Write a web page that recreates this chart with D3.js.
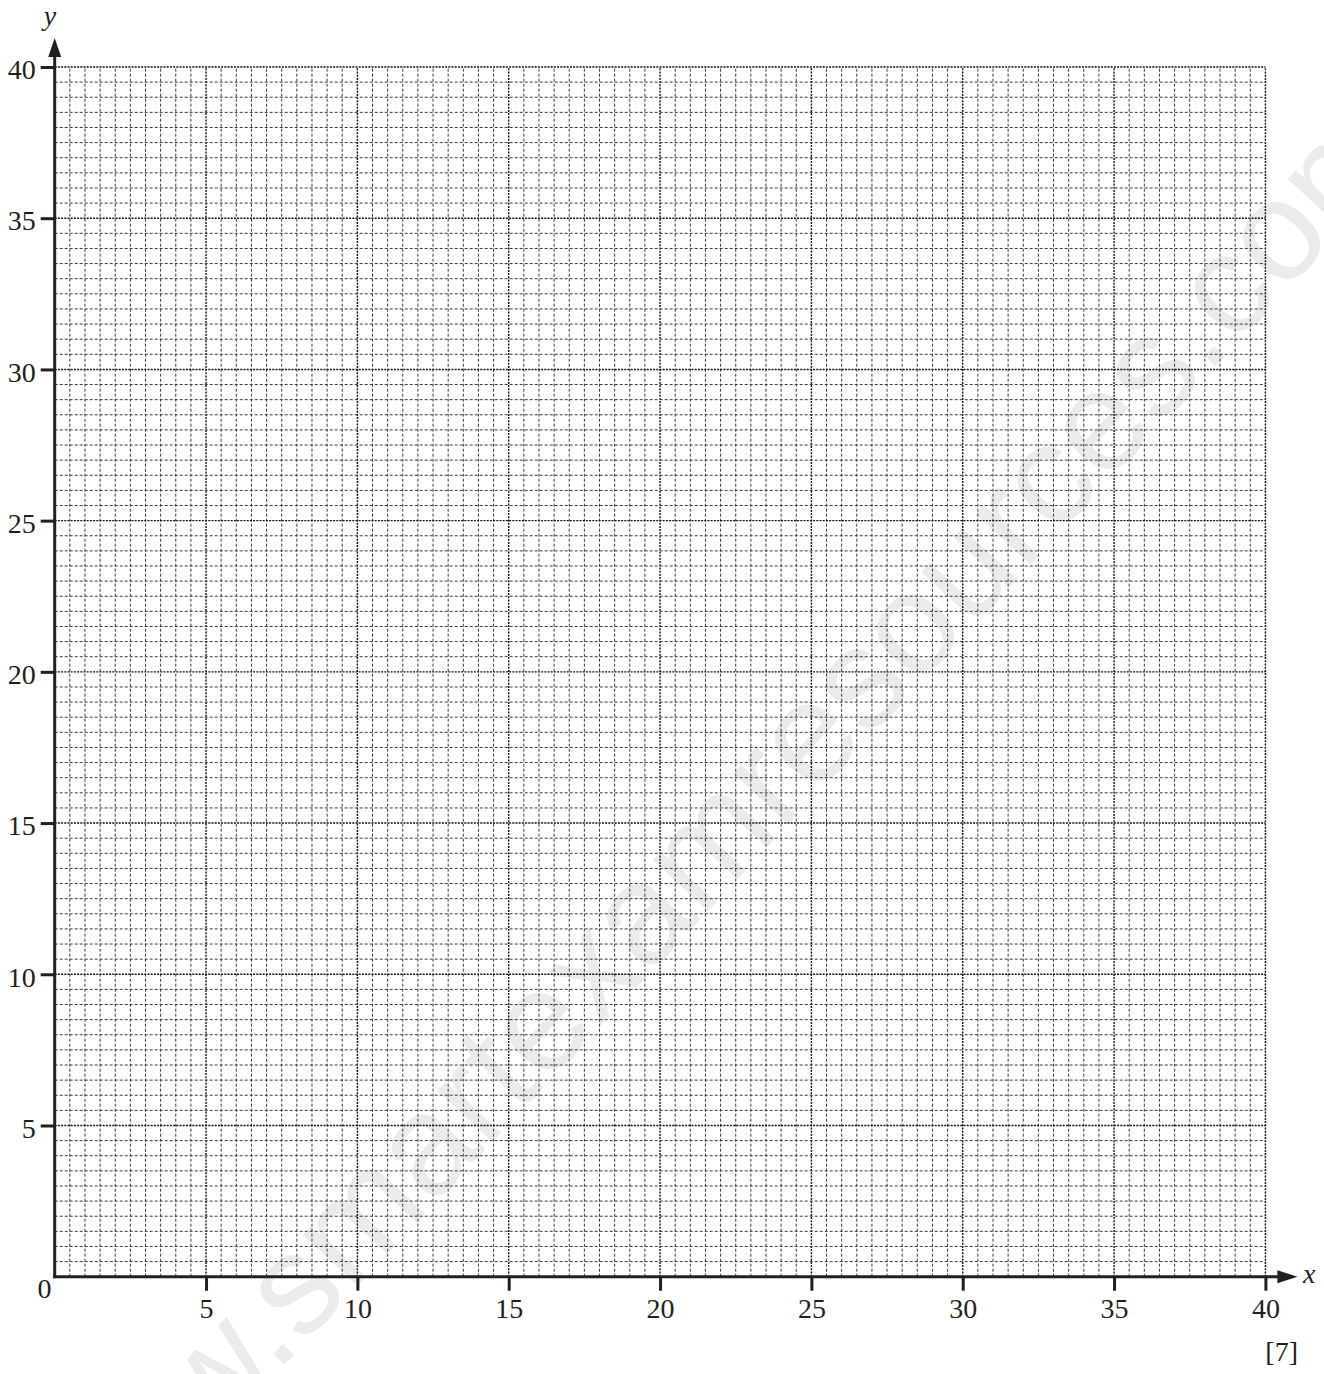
<!DOCTYPE html>
<html>
<head>
<meta charset="utf-8">
<script src="https://cdn.jsdelivr.net/npm/d3@7"></script>
<style>
  html, body { margin: 0; padding: 0; background: #fff; }
  svg { display: block; }
  .axis text { font-family: "Liberation Serif", "DejaVu Serif", serif; font-size: 28px; fill: #231f20; }
</style>
</head>
<body>
<div id="chart"></div>
<script>
// Blank graph grid, 0..40 on both axes
const xDomain = [0, 40];
const yDomain = [0, 40];
const xTickValues = [5, 10, 15, 20, 25, 30, 35, 40];
const yTickValues = [5, 10, 15, 20, 25, 30, 35, 40];
const minorStep = 0.5;
const majorStep = 5;
const marksLabel = '[7]';
const watermark = 'www.smartexamresources.com';

const W = 1324, H = 1374;
const M = { left: 54.7, right: 58.6, top: 67, bottom: 97.3 };
const ink = '#231f20';
const serif = '"Liberation Serif", "DejaVu Serif", serif';

const svg = d3.select('#chart').append('svg')
  .attr('width', W).attr('height', H)
  .attr('viewBox', `0 0 ${W} ${H}`);

const x = d3.scaleLinear().domain(xDomain).range([M.left, W - M.right]);
const y = d3.scaleLinear().domain(yDomain).range([H - M.bottom, M.top]);

// watermark, behind everything (runs off the page edges like the original)
svg.append('text')
  .attr('transform', 'translate(744,872) rotate(-47)')
  .attr('text-anchor', 'middle')
  .attr('font-family', '"Liberation Sans", Arial, sans-serif')
  .attr('font-size', 142)
  .attr('fill', '#ebebeb')
  .text(watermark);

// grid
const nMinor = Math.round((xDomain[1] - xDomain[0]) / minorStep);
const gridVals = d3.range(1, nMinor + 1).map(i => xDomain[0] + i * minorStep);
const isMajor = v => Math.abs(v / majorStep - Math.round(v / majorStep)) < 1e-9;

const grid = svg.append('g').attr('class', 'grid');
const styleGrid = sel => sel
  .attr('stroke', d => isMajor(d) ? '#111' : '#3a3a3a')
  .attr('stroke-width', d => isMajor(d) ? 1.4 : 1)
  .attr('stroke-dasharray', d => isMajor(d) ? '2 1.2' : '3 2');

grid.selectAll('line.v').data(gridVals).join('line')
  .attr('class', 'v')
  .attr('x1', d => x(d)).attr('x2', d => x(d))
  .attr('y1', y(yDomain[0])).attr('y2', y(yDomain[1]))
  .call(styleGrid);
grid.selectAll('line.h').data(gridVals).join('line')
  .attr('class', 'h')
  .attr('y1', d => y(d)).attr('y2', d => y(d))
  .attr('x1', x(xDomain[0])).attr('x2', x(xDomain[1]))
  .call(styleGrid);

// axes
const xAxis = svg.append('g').attr('class', 'axis')
  .attr('transform', `translate(0,${y(0)})`)
  .call(d3.axisBottom(x).tickValues(xTickValues).tickSize(14).tickPadding(7).tickFormat(d3.format('d')));
const yAxis = svg.append('g').attr('class', 'axis')
  .attr('transform', `translate(${x(0)},0)`)
  .call(d3.axisLeft(y).tickValues(yTickValues).tickSize(14).tickPadding(5).tickFormat(d3.format('d')));
[xAxis, yAxis].forEach(a => {
  a.select('.domain').remove();
  a.selectAll('.tick line').attr('stroke', ink).attr('stroke-width', 3);
});
yAxis.selectAll('.tick text').attr('dy', '0.42em');

// axis lines with arrowheads
const ax = svg.append('g');
ax.append('line')
  .attr('x1', x(0) - 1.5).attr('x2', x(40) + 16)
  .attr('y1', y(0)).attr('y2', y(0))
  .attr('stroke', ink).attr('stroke-width', 3);
ax.append('line')
  .attr('x1', x(0)).attr('x2', x(0))
  .attr('y1', y(0) + 1.5).attr('y2', y(40) - 14)
  .attr('stroke', ink).attr('stroke-width', 3);
ax.append('path')
  .attr('d', `M${x(40) + 32},${y(0)} L${x(40) + 12},${y(0) - 6.5} L${x(40) + 12},${y(0) + 6.5} Z`)
  .attr('fill', ink);
ax.append('path')
  .attr('d', `M${x(0)},${y(40) - 29} L${x(0) - 6.5},${y(40) - 10} L${x(0) + 6.5},${y(40) - 10} Z`)
  .attr('fill', ink);

svg.append('text').attr('x', 44.5).attr('y', 1298)
  .attr('text-anchor', 'middle').attr('font-family', serif).attr('font-size', 28)
  .attr('fill', ink).text('0');
svg.append('text').attr('x', 1303).attr('y', 1283)
  .attr('font-family', serif).attr('font-style', 'italic').attr('font-size', 28)
  .attr('fill', ink).text('x');
svg.append('text').attr('x', 50).attr('y', 25)
  .attr('text-anchor', 'middle').attr('font-family', serif).attr('font-style', 'italic').attr('font-size', 28)
  .attr('fill', ink).text('y');
svg.append('text').attr('x', 1298).attr('y', 1361)
  .attr('text-anchor', 'end').attr('font-family', serif).attr('font-size', 28)
  .attr('fill', ink).text(marksLabel);
</script>
</body>
</html>
